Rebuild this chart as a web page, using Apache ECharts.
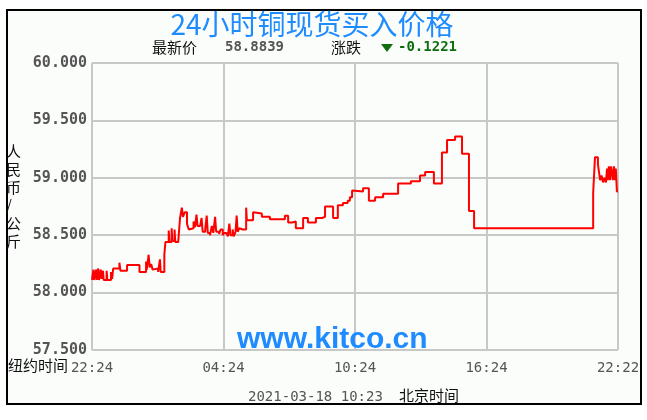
<!DOCTYPE html>
<html><head><meta charset="utf-8">
<script src="https://cdn.jsdelivr.net/npm/echarts@6/dist/echarts.min.js"></script>
<style>html,body{margin:0;padding:0;background:#fff}#c{width:647px;height:420px}</style>
</head><body><div id="c"></div>
<script>
const titleText = '24小时铜现货买入价格';
const latestLabel = '最新价';
const latestValue = '58.8839';
const changeLabel = '涨跌';
const changeValue = '-0.1221';
const xTickLabels = ['22:24', '04:24', '10:24', '16:24', '22:22'];
const yAxisName = '人民币/公斤';
const dateText = '2021-03-18 10:23';
// minutes since 22:24 (New York time)
const minutes = [0,4,6,11,13,17,19,24,26,30,32,40,42,52,55,58,75,78,96,130,148,150,155,158,162,166,170,181,186,188,198,201,210,212,218,220,226,228,236,241,246,249,254,260,265,270,278,282,286,289,296,300,303,310,314,317,323,328,332,337,340,348,352,358,362,368,372,376,379,385,388,393,396,399,403,408,413,422,424,441,446,465,487,528,537,548,558,578,591,613,630,638,660,673,687,700,706,712,717,742,758,775,797,838,873,898,912,936,958,972,994,1013,1032,1046,1372,1377,1385,1388,1391,1395,1399,1403,1407,1410,1412,1415,1418,1421,1426,1429,1432,1434,1437,1440];
const prices = [58.11,58.20,58.11,58.20,58.11,58.21,58.11,58.20,58.12,58.19,58.11,58.19,58.11,58.18,58.12,58.21,58.26,58.19,58.24,58.18,58.27,58.20,58.33,58.22,58.25,58.20,58.21,58.18,58.29,58.18,58.33,58.44,58.54,58.44,58.56,58.45,58.55,58.44,58.43,58.65,58.74,58.66,58.70,58.60,58.55,58.56,58.62,58.57,58.68,58.58,58.59,58.65,58.53,58.55,58.67,58.52,58.50,58.58,58.52,58.66,58.53,58.51,58.55,58.50,58.52,58.53,58.49,58.60,58.50,58.55,58.49,58.53,58.67,58.53,58.56,58.55,58.55,58.74,58.63,58.70,58.69,58.66,58.64,58.67,58.61,58.62,58.56,58.65,58.61,58.65,58.66,58.75,58.65,58.76,58.78,58.80,58.83,58.89,58.88,58.91,58.80,58.83,58.86,58.95,58.97,59.02,59.05,58.95,59.22,59.33,59.36,59.21,58.71,58.56,58.87,59.18,59.12,59.05,58.98,59.02,58.96,59.00,58.96,59.08,58.98,59.10,58.98,59.10,58.98,59.10,58.98,59.08,58.88,58.88];

const chart = echarts.init(document.getElementById('c'), null, {renderer: 'canvas'});
const mono = '"DejaVu Sans Mono", monospace';
const cjk = '"Noto Sans CJK SC", sans-serif';
chart.setOption({
  animation: false,
  backgroundColor: '#ffffff',
  grid: {left: 92, right: 29, top: 63, bottom: 70, containLabel: false},
  xAxis: {
    type: 'value', min: 0, max: 1440, interval: 360,
    axisLine: {show: false}, axisTick: {show: false},
    splitLine: {show: true, lineStyle: {color: '#c8c8c8', width: 2}},
    axisLabel: {
      color: '#555', fontFamily: mono, fontSize: 14, margin: 11,
      formatter: (v) => xTickLabels[Math.round(v / 360)]
    }
  },
  yAxis: {
    type: 'value', min: 57.5, max: 60, interval: 0.5,
    axisLine: {show: false}, axisTick: {show: false},
    splitLine: {show: true, lineStyle: {color: '#c8c8c8', width: 2}},
    axisLabel: {
      color: '#555', fontFamily: mono, fontWeight: 'bold', fontSize: 15, margin: 5,
      formatter: (v) => v.toFixed(3)
    }
  },
  series: [{
    type: 'line', step: 'end', showSymbol: false,
    data: minutes.map((m, i) => [m, prices[i]]),
    lineStyle: {color: '#ff0000', width: 2}
  }],
  graphic: [
    {type: 'rect', z: -10, shape: {x: 7, y: 10, width: 634, height: 394}, style: {fill: '#fbfdfa', stroke: '#000', lineWidth: 2}},
    {type: 'line', z: 0, shape: {x1: 92, y1: 63, x2: 92, y2: 350}, style: {stroke: '#c8c8c8', lineWidth: 2}},
    {type: 'text', style: {text: titleText, x: 312, y: 10, align: 'center', fill: '#1e8cff', font: '28px ' + cjk}},
    {type: 'text', style: {text: latestLabel, x: 152, y: 40, fill: '#111', font: '15px ' + cjk}},
    {type: 'text', style: {text: latestValue, x: 225, y: 40, fill: '#555', font: 'bold 14px ' + mono}},
    {type: 'text', style: {text: changeLabel, x: 331, y: 40, fill: '#111', font: '15px ' + cjk}},
    {type: 'polygon', shape: {points: [[381, 44], [393, 44], [387, 52]]}, style: {fill: '#0e6e0e'}},
    {type: 'text', style: {text: changeValue, x: 398, y: 40, fill: '#0e6e0e', font: 'bold 14px ' + mono}},
    {type: 'text', style: {text: yAxisName.split('').join('\n'), x: 6, y: 142, fill: '#111', font: '15px ' + cjk, lineHeight: 18}},
    {type: 'text', style: {text: '纽约时间', x: 8, y: 358, fill: '#111', font: '15px ' + cjk}},
    {type: 'text', z: 10, style: {text: 'www.kitco.cn', x: 237, y: 325, fill: '#1e8cff', font: 'bold 30px "Liberation Sans", sans-serif'}},
    {type: 'text', style: {text: dateText, x: 248, y: 390, fill: '#555', font: '14px ' + mono}},
    {type: 'text', style: {text: '北京时间', x: 399, y: 388, fill: '#111', font: '15px ' + cjk}}
  ]
});
</script></body></html>
